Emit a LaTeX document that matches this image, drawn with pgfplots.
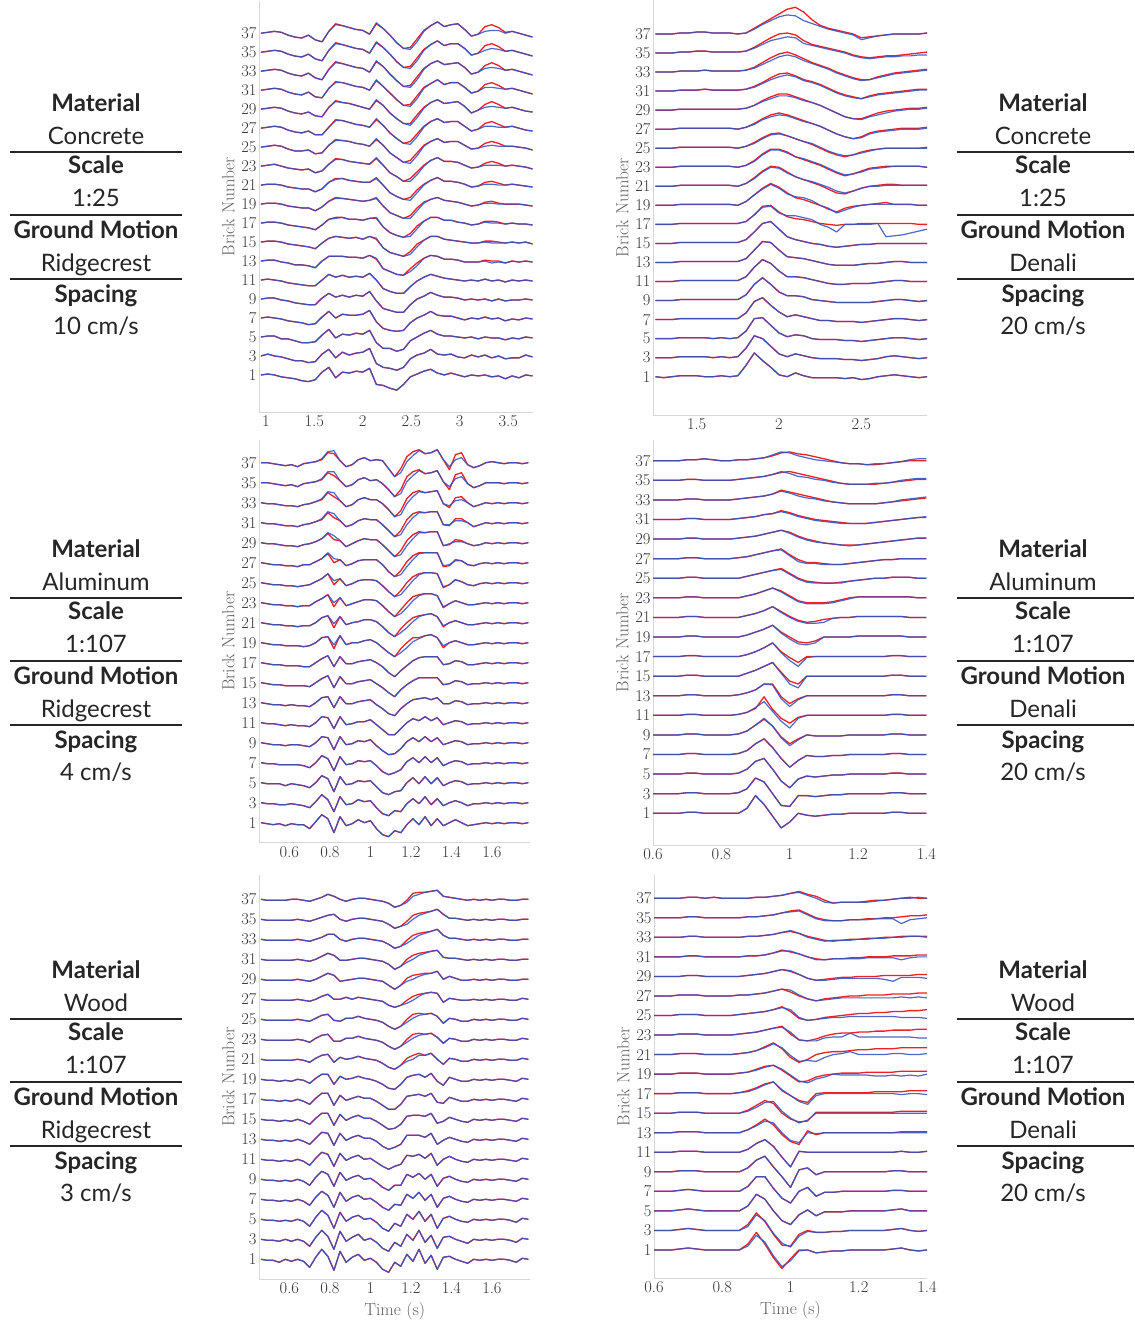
\documentclass[border=0pt]{standalone}
\usepackage{pgfplots}
\usepackage{pgfplotstable}
\pgfplotsset{compat=1.18}
\usepackage{fontspec}
\newfontfamily\lato{Lato}

\definecolor{tred}{RGB}{238,32,36}
\definecolor{tblue}{RGB}{52,82,196}
\definecolor{ink}{RGB}{38,38,38}

% Velocity traces, one row per brick: rN = measured, bN = model (when it differs).
% Values are offsets in tenths of a brick spacing; the header holds the times (s).

% Concrete 1:25, Ridgecrest
\pgfplotstableread[header=has colnames]{
id 0.95 1.02 1.09 1.16 1.23 1.30 1.37 1.44 1.51 1.58 1.65 1.72 1.79 1.86 1.93 2.00 2.07 2.14 2.21 2.28 2.35 2.42 2.49 2.56 2.63 2.70 2.77 2.84 2.91 2.98 3.05 3.12 3.19 3.26 3.33 3.40 3.47 3.54 3.61 3.68 3.75
r1  0 1 0 -2 -3 -4 -6 -7 -5 3 8 -3 3 2 4 3 7 -10 -11 -14 -16 -10 -2 1 4 6 2 0 2 0 -2 0 -1 0 -2 -1 -4 -1 -3 0 -1
r3  0 2 0 -1 -3 -5 -5 -7 -6 2 7 -2 4 1 3 4 8 -8 -12 -13 -15 -12 -3 1 3 7 2 1 2 -1 -2 1 -1 1 -2 0 -3 -2 -2 1 -1
r5  0 1 1 -2 -2 -4 -6 -6 -5 2 8 -1 3 2 4 3 7 -6 -12 -12 -15 -13 -4 0 4 7 3 1 1 0 -1 0 -2 0 -1 -1 -3 -1 -2 0 -1
r7  0 1 0 -1 -3 -4 -5 -7 -6 1 7 0 4 3 3 4 8 -4 -11 -13 -14 -13 -5 0 3 7 3 2 2 0 -2 0 -1 1 -1 0 -3 -1 -2 0 -1
r9  0 1 1 -1 -2 -4 -5 -6 -6 1 6 2 4 2 4 3 8 -2 -10 -12 -14 -14 -6 0 3 7 4 2 2 1 -1 0 -1 0 -2 0 -2 -1 -1 0 -1
r11 0 1 0 -1 -3 -4 -5 -6 -6 0 6 3 5 3 4 3 7 0 -9 -12 -14 -14 -7 -1 3 6 4 2 1 0 -1 0 -1 1 -1 0 -2 0 -1 0 -1
r13 0 1 1 -1 -2 -4 -4 -5 -7 0 5 5 5 4 4 3 6 2 -8 -11 -14 -15 -8 -2 3 6 5 2 2 1 -1 -1 -1 1 0 0 -2 0 -1 0 -1
b13 0 1 1 -1 -2 -4 -4 -5 -7 0 5 5 5 4 4 3 6 3 -8 -11 -14 -15 -11 -5 3 6 5 2 2 1 -1 -1 -1 0 -2 -1 -2 0 -1 0 -1
r15 0 1 1 0 -2 -3 -4 -5 -7 -1 4 6 5 4 5 3 6 3 -6 -11 -13 -15 -10 -2 2 6 6 3 2 1 0 -1 -1 1 1 0 -1 0 -1 0 -2
b15 0 1 1 0 -2 -3 -4 -5 -7 -1 4 6 5 4 5 3 6 4 -6 -11 -13 -15 -13 -5 2 6 6 3 2 1 0 -1 -1 0 -1 -1 -1 0 -1 0 -2
r17 0 1 1 0 -2 -3 -4 -5 -7 -2 4 6 6 4 4 3 5 5 -4 -10 -13 -15 -11 -3 2 6 6 3 3 1 0 -2 -1 2 2 1 -1 0 -1 -1 -2
b17 0 1 1 0 -2 -3 -4 -5 -7 -2 4 5 6 4 4 3 5 6 -4 -10 -13 -15 -14 -6 2 6 6 3 3 1 0 -2 -1 1 0 0 -1 0 -1 -1 -2
r19 0 1 1 0 -2 -3 -4 -4 -7 -3 3 7 6 5 4 3 4 6 -2 -9 -12 -15 -12 -4 2 5 7 4 3 2 0 -2 -1 2 3 1 0 0 0 -1 -2
b19 0 1 1 0 -2 -3 -4 -4 -7 -3 3 6 6 5 4 3 4 7 -2 -9 -12 -15 -15 -7 1 5 7 4 3 2 0 -2 -1 1 1 0 0 0 0 -1 -2
r21 0 1 1 0 -2 -3 -4 -4 -7 -4 3 7 7 5 4 3 3 7 0 -8 -12 -15 -13 -5 1 5 8 4 4 3 1 -2 -1 3 4 2 0 1 0 -1 -2
b21 0 1 1 0 -2 -3 -4 -4 -7 -4 3 6 7 5 4 3 3 8 0 -8 -12 -15 -16 -8 0 5 8 4 4 3 1 -2 -1 1 1 0 0 1 0 -1 -2
r23 0 1 2 0 -2 -3 -4 -3 -7 -5 2 8 7 5 4 3 2 8 1 -7 -11 -16 -13 -6 1 6 9 5 5 4 1 -2 -1 3 5 3 0 1 0 -1 -3
b23 0 1 2 0 -2 -3 -4 -3 -7 -5 2 7 7 5 4 3 2 9 1 -7 -11 -16 -16 -9 0 6 9 5 5 4 1 -2 -1 1 1 1 0 1 0 -1 -3
r25 0 1 2 1 -2 -4 -4 -3 -7 -6 2 8 7 6 4 3 1 8 2 -6 -11 -16 -14 -6 2 6 9 5 6 6 2 -2 -1 4 6 4 1 1 0 -1 -3
b25 0 1 2 1 -2 -4 -4 -3 -7 -6 2 7 7 6 4 3 1 9 2 -6 -11 -16 -17 -9 1 6 9 5 6 6 2 -2 -1 1 2 1 1 1 0 -1 -3
r27 0 1 2 1 -2 -4 -5 -3 -7 -7 1 9 8 6 4 3 1 9 3 -5 -11 -16 -14 -6 2 7 10 6 7 7 2 -3 -1 5 7 4 1 2 0 -2 -3
b27 0 1 2 1 -2 -4 -5 -3 -7 -7 1 8 8 6 4 3 1 10 3 -5 -11 -16 -17 -9 1 7 10 6 7 7 2 -3 -1 2 2 1 1 2 0 -2 -3
r29 0 1 2 1 -2 -4 -5 -3 -7 -8 2 9 7 6 4 2 0 9 4 -4 -10 -15 -15 -6 2 7 10 6 7 8 3 -4 -1 5 8 5 1 2 0 -2 -3
b29 0 1 2 1 -2 -4 -5 -3 -7 -8 2 8 7 6 4 2 0 10 4 -4 -10 -15 -17 -9 1 7 10 6 7 8 3 -4 -1 2 3 2 1 2 0 -2 -3
r31 0 1 2 1 -2 -4 -5 -2 -7 -8 2 9 8 6 4 3 0 10 4 -3 -10 -16 -15 -6 3 7 11 6 8 8 3 -3 -1 6 8 5 1 2 0 -2 -4
b31 0 1 2 1 -2 -4 -5 -2 -7 -8 2 8 8 6 4 3 0 11 4 -3 -10 -16 -17 -9 2 7 11 6 8 8 3 -3 -1 3 3 2 1 2 0 -2 -4
r33 0 1 2 1 -2 -4 -5 -2 -7 -9 2 10 8 6 4 3 -1 10 5 -3 -10 -16 -15 -6 3 8 11 7 8 9 4 -3 -1 6 9 6 1 2 0 -2 -4
b33 0 1 2 1 -2 -4 -5 -2 -7 -9 2 9 8 6 4 3 -1 11 5 -3 -10 -16 -17 -9 2 8 11 7 8 9 4 -3 -1 3 4 3 1 2 0 -2 -4
r35 0 1 2 1 -2 -4 -5 -2 -7 -9 2 10 8 6 4 3 -1 10 5 -2 -10 -16 -15 -6 3 8 12 7 9 9 4 -3 -1 7 9 6 1 2 0 -2 -4
b35 0 1 2 1 -2 -4 -5 -2 -7 -9 2 9 8 6 4 3 -1 11 5 -2 -10 -16 -17 -9 2 8 12 7 9 9 4 -3 -1 2 4 3 1 2 0 -2 -4
r37 0 1 2 1 -2 -4 -5 -2 -7 -9 2 10 8 6 4 3 -1 10 5 -2 -10 -16 -15 -6 3 8 12 7 9 10 4 -3 -1 7 9 6 1 2 0 -2 -4
b37 0 1 2 1 -2 -4 -5 -2 -7 -9 2 9 8 6 4 3 -1 11 5 -2 -10 -16 -17 -9 2 8 12 7 9 10 4 -3 -1 2 3 3 0 2 0 -2 -4
}\rawA

% Aluminum 1:107, Ridgecrest
\pgfplotstableread[header=has colnames]{
id 0.46 0.49 0.52 0.55 0.58 0.61 0.64 0.67 0.70 0.73 0.76 0.79 0.82 0.85 0.88 0.91 0.94 0.97 1.00 1.03 1.06 1.09 1.12 1.15 1.18 1.21 1.24 1.27 1.30 1.33 1.36 1.39 1.42 1.45 1.48 1.51 1.54 1.57 1.60 1.63 1.66 1.69 1.72 1.75 1.78
r1  0 -1 -2 -1 -3 -1 -2 -2 -6 1 8 4 -10 6 -3 -1 3 0 2 -6 -12 -14 -8 -10 -2 4 -2 6 -3 4 -3 0 3 0 -3 -2 -1 0 -1 0 -1 0 0 -1 0
r3  0 -1 -1 -2 -2 -1 -2 -3 -5 1 8 3 -9 6 -2 -1 3 1 2 -5 -11 -13 -8 -9 -1 4 -1 6 -2 4 -3 0 2 0 -3 -1 -1 0 -1 0 -1 0 0 -1 0
r5  0 -1 -1 -1 -3 -1 -2 -3 -5 0 7 4 -9 6 -2 -1 2 1 2 -4 -10 -12 -9 -8 0 5 -1 6 -1 5 -3 0 2 1 -2 -1 -1 0 -1 0 -1 0 0 -1 0
r7  0 -1 -1 -2 -2 -2 -2 -3 -5 0 7 4 -8 6 -2 -1 2 1 2 -3 -9 -12 -10 -7 1 5 0 6 0 5 -3 0 2 1 -2 -1 -1 0 -1 0 -1 0 0 -1 0
r9  0 -1 -2 -2 -3 -2 -2 -3 -4 0 6 5 -7 6 -2 -1 2 1 3 -3 -8 -12 -11 -6 1 5 1 6 1 5 -2 0 2 1 -2 -1 -1 0 -1 0 -1 0 0 -1 0
r11 0 -1 -1 -2 -3 -2 -3 -3 -4 0 6 5 -6 6 -2 -1 1 1 3 -2 -7 -12 -12 -6 0 4 2 6 2 5 -2 0 2 1 -2 -1 -1 0 -1 0 -1 0 0 -1 0
r13 0 -1 -2 -2 -3 -2 -3 -3 -4 0 5 6 -5 6 -1 -1 1 2 3 -2 -6 -11 -13 -6 -1 3 4 5 3 5 -1 -1 2 1 -2 -1 -1 0 -1 0 -1 0 0 -1 0
r15 0 -1 -2 -2 -3 -3 -3 -3 -4 0 4 7 -5 6 -1 -1 1 2 3 -1 -5 -10 -14 -7 -2 2 5 5 5 5 -2 -1 2 1 -2 -1 -1 0 -1 0 -1 0 0 -1 0
r17 0 -1 -2 -2 -3 -3 -3 -4 -4 0 4 7 -4 6 -1 -1 1 2 3 0 -4 -10 -14 -8 -3 2 5 6 6 6 -2 -1 2 1 -2 -2 -1 0 -1 0 -1 0 0 -1 0
r19 0 -1 -2 -2 -3 -3 -3 -4 -3 0 5 6 -6 7 -2 0 0 2 3 0 -5 -10 -14 -6 0 5 5 7 8 5 -5 0 2 0 -2 -2 -1 0 -1 0 -1 0 0 -1 0
b19 0 -1 -2 -2 -3 -3 -3 -4 -3 0 5 6 -2 7 -2 0 0 2 3 0 -5 -10 -14 -10 -5 1 4 7 8 5 -3 0 2 0 -2 -2 -1 0 -1 0 -1 0 0 -1 0
r21 0 -1 -2 -2 -3 -3 -4 -3 -3 0 5 7 -5 6 -2 0 1 3 3 1 -4 -10 -14 -6 0 5 7 8 9 6 -4 0 2 0 -2 -2 -1 0 -1 0 -1 0 0 -1 0
b21 0 -1 -2 -2 -3 -3 -4 -3 -3 0 5 7 -1 6 -2 0 1 3 3 1 -4 -10 -14 -10 -5 1 6 8 9 6 -3 0 2 0 -2 -2 -1 0 -1 0 -1 0 0 -1 0
r23 0 -1 -2 -2 -3 -3 -4 -3 -3 1 4 8 -4 5 -3 -1 1 3 3 2 -3 -9 -14 -7 0 6 8 9 9 7 -5 -1 2 0 -2 -2 -1 0 -1 0 -1 0 0 -1 0
b23 0 -1 -2 -2 -3 -3 -4 -3 -3 1 4 8 0 5 -3 -1 1 3 3 2 -3 -9 -14 -11 -5 2 7 9 9 7 -4 -1 2 0 -2 -2 -1 0 -1 0 -1 0 0 -1 0
r25 0 -1 -2 -2 -3 -3 -4 -3 -2 1 4 9 -2 4 -3 -1 2 3 3 2 -3 -9 -14 -8 0 6 9 10 10 9 -5 -2 3 1 -2 -3 -1 0 -1 0 -1 0 0 -1 0
b25 0 -1 -2 -2 -3 -3 -4 -3 -2 1 4 9 2 4 -3 -1 2 3 3 2 -3 -9 -14 -12 -5 2 8 10 10 9 -4 -2 3 1 -2 -3 -1 0 -1 0 -1 0 0 -1 0
r27 0 -1 -2 -2 -3 -3 -4 -2 -2 1 4 9 0 3 -3 -1 2 3 3 3 -2 -9 -14 -8 1 7 10 10 10 10 -4 -3 3 2 -2 -3 -1 0 -1 0 -1 0 0 -1 0
b27 0 -1 -2 -2 -3 -3 -4 -2 -2 1 4 10 4 3 -3 -1 2 3 3 3 -2 -9 -14 -12 -4 3 9 10 10 10 -3 -2 2 2 -2 -3 -1 0 -1 0 -1 0 0 -1 0
r29 0 -1 -1 -2 -3 -3 -4 -2 -1 1 4 9 3 2 -4 -1 2 4 3 3 -2 -8 -14 -8 2 8 11 10 11 11 -3 -2 3 2 -1 -3 -2 0 -1 0 -1 0 0 -1 0
b29 0 -1 -1 -2 -3 -3 -4 -2 -1 1 4 10 7 2 -4 -1 2 4 3 3 -2 -8 -14 -12 -3 4 10 10 11 11 -3 -1 1 1 -1 -3 -2 0 -1 0 -1 0 0 -1 0
r31 0 -1 -1 -2 -3 -3 -4 -2 -1 1 3 10 5 2 -4 -2 2 4 3 3 -2 -8 -14 -8 3 9 11 10 11 11 -2 -3 4 4 0 -4 -2 0 -1 0 -1 0 0 -1 0
b31 0 -1 -1 -2 -3 -3 -4 -2 -1 1 4 11 9 2 -4 -2 2 4 3 3 -2 -8 -14 -12 -2 5 10 10 11 11 -2 -2 2 2 0 -4 -2 0 -1 0 -1 0 0 -1 0
r33 0 -1 -1 -2 -3 -3 -4 -2 -1 1 3 10 6 2 -4 -2 3 5 3 3 -1 -7 -14 -8 4 10 12 10 11 12 -1 -5 5 6 0 -4 -2 0 -1 0 -1 0 0 -1 0
b33 0 -1 -1 -2 -3 -3 -4 -2 -1 1 4 11 10 2 -4 -2 3 5 3 3 -1 -7 -14 -12 -1 6 11 10 11 12 -1 -3 2 3 0 -4 -2 0 -1 0 -1 0 0 -1 0
r35 0 0 -1 -2 -3 -2 -4 -1 0 1 3 10 7 2 -4 -2 3 5 2 3 -1 -7 -14 -7 6 11 13 9 10 12 1 -7 8 10 -1 -5 -3 0 0 0 -1 0 0 -1 0
b35 0 0 -1 -2 -3 -2 -4 -1 0 1 4 11 11 2 -4 -2 3 5 2 3 -1 -7 -14 -11 1 7 12 9 10 12 1 -4 4 6 -1 -5 -3 0 0 0 -1 0 0 -1 0
r37 0 0 -1 -2 -3 -2 -4 -1 0 1 3 10 9 2 -4 -2 3 5 2 3 2 -6 -14 -6 6 11 13 9 10 13 3 -7 8 10 -2 -5 -3 0 1 0 -1 0 0 -1 0
b37 0 0 -1 -2 -3 -2 -4 -1 0 1 4 11 12 2 -4 -2 3 5 2 3 2 -6 -14 -10 1 7 12 9 10 13 3 -4 3 5 -2 -5 -3 0 1 0 -1 0 0 -1 0
}\rawB

% Wood 1:107, Ridgecrest
\pgfplotstableread[header=has colnames]{
id 0.46 0.49 0.52 0.55 0.58 0.61 0.64 0.67 0.70 0.73 0.76 0.79 0.82 0.85 0.88 0.91 0.94 0.97 1.00 1.03 1.06 1.09 1.12 1.15 1.18 1.21 1.24 1.27 1.30 1.33 1.36 1.39 1.42 1.45 1.48 1.51 1.54 1.57 1.60 1.63 1.66 1.69 1.72 1.75 1.78
r1  0 -1 -1 -3 0 -2 0 -2 -8 2 10 3 -11 8 -3 2 5 -1 1 -3 -10 -13 -3 -7 5 -2 10 -4 4 -10 2 3 0 -2 -4 0 -1 0 -1 0 0 -1 -3 1 0
r3  0 -1 -1 -2 0 -2 0 -2 -7 2 9 3 -10 8 -2 2 5 -1 1 -3 -9 -12 -3 -7 5 -1 9 -3 4 -9 2 3 0 -2 -4 0 -1 0 -1 0 0 -1 -3 1 0
r5  0 -1 -1 -2 -1 -2 0 -2 -7 2 9 4 -9 7 -2 2 4 0 1 -3 -9 -12 -4 -7 5 0 8 -2 5 -9 1 3 0 -2 -3 0 -1 0 -1 0 0 -1 -3 1 0
r7  0 -1 -1 -2 -1 -2 0 -2 -6 2 8 4 -8 7 -2 2 4 0 1 -3 -8 -11 -5 -6 5 1 7 -1 5 -8 1 3 0 -2 -3 0 -1 0 -1 0 0 -1 -2 1 0
r9  0 -1 -1 -2 -1 -2 0 -2 -6 2 8 5 -7 7 -1 2 4 0 1 -3 -8 -11 -6 -6 5 2 6 0 5 -7 1 3 0 -2 -3 0 -1 0 -1 0 0 -1 -2 1 0
r11 0 -1 -1 -2 -1 -2 0 -2 -6 1 7 5 -7 6 -1 2 4 0 1 -3 -7 -10 -7 -5 4 3 5 1 6 -6 0 3 0 -2 -3 0 -1 0 -1 0 0 -1 -2 1 0
r13 0 -1 -1 -2 -1 -2 0 -2 -5 1 7 6 -6 6 -1 2 4 1 1 -2 -7 -10 -8 -5 4 4 4 2 6 -5 -1 2 0 -2 -3 0 -1 0 -1 0 0 -1 -2 1 0
r15 0 -1 -1 -2 -1 -2 0 -2 -5 1 6 6 -6 5 -1 2 4 1 1 -2 -6 -10 -9 -5 3 4 4 3 6 -4 -2 2 0 -2 -3 0 -1 0 -1 0 0 -1 -2 1 0
r17 0 -1 -1 -2 -1 -2 0 -2 -5 1 6 6 -6 4 -1 1 3 1 1 -2 -6 -10 -10 -5 3 4 5 3 6 -3 -4 2 0 -2 -2 0 -1 0 -1 0 0 -1 -2 1 0
r19 0 -1 -1 -2 -1 -2 0 -1 -4 1 5 5 -5 3 0 1 3 1 0 -2 -5 -9 -10 -5 2 4 5 2 6 -2 -6 2 0 -2 -2 0 -1 0 -1 0 0 -1 -2 1 0
r21 0 -1 -1 -1 -1 -1 0 -1 -3 1 4 5 -3 2 0 1 3 1 0 -1 -4 -8 -10 -6 1 4 6 4 6 0 -5 1 0 -2 -2 0 -1 0 -1 0 0 -1 -1 1 0
b21 0 -1 -1 -1 -1 -1 0 -1 -3 1 4 5 -3 2 0 1 3 1 0 -1 -4 -8 -10 -6 -2 0 4 4 6 0 -5 1 0 -2 -2 0 -1 0 -1 0 0 -1 -1 1 0
r23 0 -1 -1 -1 -1 -1 0 -1 -3 1 4 5 -2 -2 1 1 3 1 0 -1 -3 -7 -10 -7 0 5 6 5 6 2 -4 1 0 -2 -2 0 -1 0 -1 0 0 -1 -1 1 0
b23 0 -1 -1 -1 -1 -1 0 -1 -3 1 4 5 -2 -2 1 1 3 1 0 -1 -3 -7 -10 -7 -3 1 4 5 6 2 -4 1 0 -2 -2 0 -1 0 -1 0 0 -1 -1 1 0
r25 0 -1 -1 -1 -1 -1 0 -1 -2 1 4 5 -1 -2 1 1 3 1 0 -1 -3 -7 -10 -7 0 5 6 5 6 3 -4 1 0 -2 -2 0 -1 0 -1 0 0 -1 -1 1 0
b25 0 -1 -1 -1 -1 -1 0 -1 -2 1 4 5 -1 -2 1 1 3 1 0 -1 -3 -7 -10 -7 -3 1 4 5 6 3 -4 1 0 -2 -2 0 -1 0 -1 0 0 -1 -1 1 0
r27 0 -1 -1 -1 -1 -1 0 -1 -2 0 3 5 0 0 2 0 2 1 0 -1 -2 -6 -8 -6 -1 3 5 6 7 6 -3 1 0 -1 -1 0 -1 0 -1 0 0 -1 -1 1 0
b27 0 -1 -1 -1 -1 -1 0 -1 -2 0 3 5 0 0 2 0 2 1 0 -1 -2 -6 -8 -6 -4 -1 3 6 7 6 -3 1 0 -1 -1 0 -1 0 -1 0 0 -1 -1 1 0
r29 0 -1 -1 -1 -1 -1 0 -1 -2 0 3 6 4 -2 -1 0 1 1 0 -1 -2 -6 -10 -6 1 4 5 6 6 8 0 3 1 -1 -1 0 -1 0 -1 0 0 -1 -1 0 0
b29 0 -1 -1 -1 -1 -1 0 -1 -2 0 3 6 4 -2 -1 0 1 1 0 -1 -2 -6 -10 -6 -2 0 3 5 6 8 0 3 1 -1 -1 0 -1 0 -1 0 0 -1 -1 0 0
r31 0 -1 -1 -1 -1 -1 0 -1 -2 0 3 6 4 -1 -1 0 1 1 0 -1 -2 -5 -10 -7 0 4 6 7 8 9 2 1 1 0 -1 0 -1 0 -1 0 0 -1 -1 0 0
b31 0 -1 -1 -1 -1 -1 0 -1 -2 0 3 6 4 -1 -1 0 1 1 0 -1 -2 -5 -10 -7 -3 0 4 6 8 9 2 1 1 0 -1 0 -1 0 -1 0 0 -1 -1 0 0
r33 0 -1 -1 -1 -1 -1 0 -1 -2 0 2 5 5 0 -2 0 1 1 0 -1 -2 -5 -9 -7 -1 4 6 7 8 10 4 1 1 0 -1 0 -1 0 -1 0 0 -1 -1 0 0
b33 0 -1 -1 -1 -1 -1 0 -1 -2 0 2 5 5 0 -2 0 1 1 0 -1 -2 -5 -9 -7 -4 0 4 6 8 10 4 1 1 0 -1 0 -1 0 -1 0 0 -1 -1 0 0
r35 0 -1 -1 -1 -1 -1 0 -1 -2 0 2 4 5 0 -2 0 1 1 0 -1 -2 -5 -9 -7 -2 4 6 7 8 10 5 1 1 0 -1 0 -1 0 -1 0 0 -1 -1 0 0
b35 0 -1 -1 -1 -1 -1 0 -1 -2 0 2 4 5 0 -2 0 1 1 0 -1 -2 -5 -9 -7 -5 0 4 6 8 10 5 1 1 0 -1 0 -1 0 -1 0 0 -1 -1 0 0
r37 0 -1 -1 -1 -1 0 0 -1 -2 0 2 5 3 0 -2 0 1 1 0 -1 -2 -4 -8 -6 -1 6 7 7 8 9 3 2 1 0 -1 0 -1 0 -1 0 0 -1 -1 0 0
b37 0 -1 -1 -1 -1 0 0 -1 -2 0 2 5 3 0 -2 0 1 1 0 -1 -2 -4 -8 -6 -3 3 5 7 8 9 3 2 1 0 -1 0 -1 0 -1 0 0 -1 -1 0 0
}\rawC

% Concrete 1:25, Denali
\pgfplotstableread[header=has colnames]{
id 1.25 1.30 1.35 1.40 1.45 1.50 1.55 1.60 1.65 1.70 1.75 1.80 1.85 1.90 1.95 2.00 2.05 2.10 2.15 2.20 2.25 2.30 2.35 2.40 2.45 2.50 2.55 2.60 2.65 2.70 2.75 2.80 2.85 2.90
r1  0 -1 0 1 1 1 0 0 1 0 1 12 25 17 10 2 0 4 1 -1 -1 -1 -1 -2 -1 -3 -2 0 1 2 1 0 -1 0
r3  0 0 0 1 1 1 1 0 1 0 1 10 23 20 12 4 1 4 2 0 -1 -1 -1 -2 -2 -3 -2 -1 1 2 1 0 -1 0
r5  0 0 0 1 1 1 1 0 1 0 1 8 21 22 14 6 2 4 3 0 -1 -1 -1 -2 -2 -3 -2 -1 0 1 1 0 -1 0
r7  0 0 0 1 1 1 1 1 1 1 1 7 19 23 15 8 3 5 3 1 -1 -1 -2 -2 -2 -3 -2 -1 0 1 1 0 -1 0
r9  0 0 0 1 1 1 1 1 1 1 1 6 17 24 17 9 5 5 4 1 0 -1 -2 -2 -2 -2 -2 -1 0 1 1 0 -1 0
r11 0 0 0 1 1 1 1 1 1 1 1 5 15 23 19 11 5 5 4 2 0 -2 -3 -3 -2 -2 -2 -1 0 1 1 0 0 0
r13 0 0 0 1 1 1 1 1 1 1 1 4 13 22 21 13 6 5 4 2 0 -2 -3 -3 -3 -2 -1 -1 0 1 1 0 0 0
r15 0 0 0 1 1 1 1 1 1 1 1 4 12 21 23 15 7 4 2 0 -1 -3 -4 -3 -2 -1 -1 0 0 0 0 0 0 0
r17 0 0 0 1 1 1 1 1 1 1 1 3 10 19 20 13 8 6 5 3 1 0 -1 0 0 1 1 1 1 1 1 1 0 0
b17 0 0 0 1 1 1 1 1 1 1 1 3 10 18 19 12 9 9 7 5 0 -3 -8 0 0 0 0 1 -13 -12 -11 -9 -7 -5
r19 0 0 0 1 1 1 1 1 1 1 0 4 11 18 23 19 13 8 6 3 0 -4 -7 -3 -1 0 1 2 3 1 1 1 0 0
b19 0 0 0 1 1 1 1 1 1 1 0 4 11 17 22 18 12 9 8 5 0 -3 -8 -5 -2 0 1 1 1 1 1 1 0 0
r21 0 0 0 1 1 1 1 1 1 1 0 3 9 16 21 20 15 10 7 4 1 -3 -7 -8 -5 -2 0 1 2 2 1 1 1 1
b21 0 0 0 1 1 1 1 1 1 1 0 3 8 15 20 19 14 10 7 5 2 -1 -5 -7 -5 -2 0 0 1 1 1 1 1 1
r23 0 0 0 1 1 1 1 1 1 1 0 2 7 14 19 19 16 11 8 5 2 -2 -6 -9 -7 -4 -1 0 1 1 1 1 1 0
b23 0 0 0 1 1 1 1 1 1 1 0 2 6 13 18 18 15 11 9 6 3 -1 -5 -8 -7 -5 -2 -1 0 1 1 1 1 0
r25 0 0 0 1 1 1 1 1 1 1 0 2 6 11 15 16 13 10 7 4 0 -4 -7 -9 -7 -4 -2 -1 0 0 0 0 0 1
b25 0 0 0 1 1 1 1 1 1 1 0 2 5 10 14 15 13 10 7 5 1 -3 -6 -8 -7 -5 -3 -1 0 0 0 0 0 0
r27 0 0 0 1 1 1 1 1 1 1 0 2 6 11 15 17 15 12 9 6 3 -1 -5 -8 -10 -8 -4 -2 -1 0 1 1 1 2
b27 0 0 0 1 1 1 1 1 1 1 0 2 5 10 13 15 14 11 8 6 3 -1 -5 -8 -10 -9 -5 -3 -2 -1 0 0 0 1
r29 0 0 0 1 1 1 1 1 1 1 1 2 5 10 14 17 17 14 11 8 5 1 -3 -7 -9 -9 -6 -3 -1 0 1 2 2 3
b29 0 0 0 1 1 1 1 1 1 1 1 2 5 9 12 15 15 13 10 8 5 1 -3 -7 -9 -10 -7 -5 -3 -1 0 1 1 2
r31 0 0 0 1 1 1 2 1 1 1 1 2 5 9 14 18 19 16 12 10 7 3 -1 -4 -6 -8 -5 -3 -2 -1 0 1 2 2
b31 0 0 0 1 1 1 2 1 1 1 1 2 4 8 12 15 17 15 11 9 6 2 -2 -5 -7 -8 -6 -4 -3 -2 -1 0 1 1
r33 0 0 0 1 1 1 2 1 1 1 1 2 5 10 15 19 21 18 14 10 7 4 0 -3 -6 -8 -8 -5 -3 -1 0 1 2 3
b33 0 0 0 1 1 1 2 1 1 1 1 2 4 8 12 16 18 16 12 9 6 3 -1 -4 -7 -9 -8 -6 -4 -2 -1 0 1 2
r35 0 0 0 1 1 2 2 1 1 1 1 2 6 11 16 20 21 19 13 9 7 5 3 1 -2 -4 -5 -4 -3 -3 -2 -1 0 1
b35 0 0 0 1 1 2 2 1 1 1 1 2 5 9 13 15 17 16 10 8 6 4 2 0 -3 -5 -6 -5 -4 -4 -3 -3 -2 -2
r37 0 0 0 1 1 2 2 1 1 1 0 1 6 11 16 21 26 28 23 15 9 6 4 2 0 -4 -3 -2 -1 0 0 0 0 1
b37 0 0 0 1 1 2 2 1 1 1 0 1 5 10 14 18 20 19 14 11 8 5 3 1 -1 -6 -4 -2 -1 0 0 0 0 1
}\rawD

% Aluminum 1:107, Denali
\pgfplotstableread[header=has colnames]{
id 0.600 0.625 0.650 0.675 0.700 0.725 0.750 0.775 0.800 0.825 0.850 0.875 0.900 0.925 0.950 0.975 1.000 1.025 1.050 1.075 1.100 1.125 1.150 1.175 1.200 1.225 1.250 1.275 1.300 1.325 1.350 1.375 1.400
r1  0 0 0 0 1 1 0 0 0 0 0 5 18 9 -3 -15 -9 0 -2 -3 -2 -1 -1 0 0 0 0 0 1 1 0 0 0
r3  0 0 0 0 1 1 0 0 0 0 1 5 16 12 0 -12 -13 -2 -2 -3 -2 -1 -1 0 0 0 0 0 1 1 0 0 0
r5  0 0 0 0 1 1 0 0 0 0 1 5 13 16 5 -7 -14 -5 -2 -3 -2 -1 -1 0 0 0 0 0 1 1 0 0 0
r7  0 0 0 0 1 1 0 0 0 0 1 4 11 16 7 -4 -13 -6 -1 -2 -2 -1 -1 0 0 0 0 0 1 1 0 0 0
r9  0 0 0 0 1 1 0 0 0 0 1 4 10 16 9 -2 -9 -4 0 -1 -1 -1 -1 0 0 0 0 0 1 1 0 0 0
b9  0 0 0 0 1 1 0 0 0 0 1 4 10 17 9 -3 -11 -5 0 -1 -1 -1 -1 0 0 0 0 0 1 1 0 0 0
r11 0 0 0 0 1 1 0 0 0 0 1 3 7 19 6 -3 -8 -2 0 0 0 0 0 0 0 0 0 0 1 1 0 0 0
b11 0 0 0 0 1 1 0 0 0 0 1 3 8 14 4 -6 -13 -3 0 0 0 0 0 0 0 0 0 0 1 1 0 0 0
r13 0 0 0 0 1 1 0 0 0 0 1 3 6 12 12 -1 -8 -3 0 0 0 0 0 0 0 0 0 0 1 1 0 0 0
b13 0 0 0 0 1 1 0 0 0 0 1 3 6 12 11 -3 -11 -4 0 0 0 0 0 0 0 0 0 0 1 1 0 0 0
r15 0 0 0 0 1 1 0 0 0 0 0 3 6 10 14 4 -5 -8 0 0 0 0 0 0 0 0 0 0 1 1 0 0 0
b15 0 0 0 0 1 1 0 0 0 0 0 3 6 10 14 3 -8 -12 0 0 0 0 0 0 0 0 0 0 1 1 0 0 0
r17 0 0 0 0 1 1 0 0 0 0 0 2 5 9 14 5 -1 -6 0 0 0 0 0 0 0 0 0 0 1 1 0 0 0
b17 0 0 0 0 1 1 0 0 0 0 0 2 5 9 14 4 -4 -10 -1 0 0 0 0 0 0 0 0 0 1 1 0 0 0
r19 0 0 0 0 1 1 0 0 0 0 0 2 5 8 12 5 0 -5 -6 -4 0 0 0 0 1 1 1 1 1 1 0 0 0
b19 0 0 0 0 1 1 0 0 0 0 0 2 5 8 12 4 -2 -7 -8 -6 0 0 0 0 1 1 1 1 1 1 0 0 0
r21 0 0 0 0 1 1 0 0 0 0 0 2 4 7 11 6 1 -3 -5 -4 -2 -1 0 0 1 1 1 1 1 1 0 0 0
b21 0 0 0 0 1 1 0 0 0 0 0 2 4 7 11 5 0 -4 -6 -6 -5 -1 0 0 1 1 1 1 1 1 0 0 0
r23 0 0 0 0 1 1 0 0 0 0 0 2 4 7 10 7 2 -3 -5 -5 -5 -4 -2 0 1 1 1 1 1 1 1 0 0
b23 0 0 0 0 1 1 0 0 0 0 0 2 4 7 10 6 1 -4 -6 -6 -6 -5 -3 -1 1 1 1 1 1 1 1 0 0
r25 0 0 0 0 1 1 0 0 0 0 0 2 4 6 8 10 5 0 -3 -4 -5 -5 -4 -3 -2 -1 0 0 1 1 1 0 0
b25 0 0 0 0 1 1 0 0 0 0 0 2 4 6 8 9 4 -1 -4 -5 -5 -5 -5 -3 -2 -1 0 0 1 1 1 0 0
r27 0 0 0 0 1 1 0 0 0 0 1 2 4 6 8 10 4 -1 -4 -4 -5 -6 -6 -5 -4 -3 -2 -1 -1 0 0 0 0
b27 0 0 0 0 1 1 0 0 0 0 1 2 4 6 8 9 3 -3 -5 -5 -6 -6 -6 -5 -4 -3 -2 -1 -1 0 0 0 0
r29 0 0 0 0 1 1 0 0 0 0 1 2 3 5 7 9 7 3 0 -2 -4 -5 -6 -6 -6 -5 -4 -3 -2 -1 0 1 1
b29 0 0 0 0 1 1 0 0 0 0 1 2 3 5 7 9 6 2 -1 -3 -4 -5 -6 -7 -6 -5 -4 -3 -2 -1 0 1 1
r31 0 0 0 0 1 1 0 0 0 0 1 2 3 5 6 9 7 4 2 0 -1 -2 -3 -4 -4 -4 -3 -2 -1 0 1 2 2
b31 0 0 0 0 1 1 0 0 0 0 1 2 3 5 6 8 6 3 1 -1 -2 -3 -4 -4 -4 -4 -3 -2 -1 0 1 2 3
r33 0 0 0 0 1 1 0 0 0 0 1 2 3 4 6 10 8 6 4 2 0 -2 -3 -4 -4 -4 -4 -3 -2 -1 0 1 2
b33 0 0 0 0 1 1 0 0 0 0 1 2 3 4 6 9 7 4 2 1 -1 -2 -3 -4 -4 -4 -4 -3 -2 0 1 2 3
r35 0 0 0 0 1 1 0 0 0 0 1 2 3 4 6 8 9 7 5 3 1 -1 -3 -4 -4 -4 -4 -3 -2 -1 0 1 1
b35 0 0 0 0 1 1 0 0 0 0 1 2 3 4 6 9 7 4 3 1 0 -2 -3 -4 -4 -4 -3 -3 -2 0 1 2 2
r37 0 0 0 0 1 1 2 1 0 0 1 1 2 3 5 8 9 7 6 4 2 0 -2 -3 -3 -4 -4 -3 -2 -1 0 0 0
b37 0 0 0 0 1 1 2 1 0 0 1 1 2 3 6 9 8 5 3 1 0 -1 -2 -3 -3 -4 -3 -3 -2 -1 1 2 2
}\rawE

% Wood 1:107, Denali
\pgfplotstableread[header=has colnames]{
id 0.600 0.625 0.650 0.675 0.700 0.725 0.750 0.775 0.800 0.825 0.850 0.875 0.900 0.925 0.950 0.975 1.000 1.025 1.050 1.075 1.100 1.125 1.150 1.175 1.200 1.225 1.250 1.275 1.300 1.325 1.350 1.375 1.400
r1  0 0 0 1 2 1 0 0 0 0 0 6 18 6 -8 -19 -9 0 0 -3 -2 -1 -1 0 0 0 0 0 1 2 0 -1 0
b1  0 0 0 1 2 1 0 0 0 0 0 4 15 8 -6 -17 -11 -1 0 -3 -2 -1 -1 0 0 0 0 0 1 2 0 -1 0
r3  0 0 0 1 2 1 0 0 0 0 0 6 18 9 -4 -15 -16 -4 0 -2 -2 -1 -1 0 0 0 0 0 1 2 0 -1 0
b3  0 0 0 1 2 1 0 0 0 0 0 4 16 10 -3 -13 -17 -6 -1 -2 -2 -1 -1 0 0 0 0 0 1 2 0 -1 0
r5  0 0 0 1 2 1 0 0 0 0 0 5 17 12 0 -10 -14 -4 1 -5 -1 -1 -1 0 0 0 0 0 1 2 0 0 0
r7  0 0 0 1 2 1 0 0 0 0 0 5 15 15 3 -7 -12 0 4 -5 -1 -1 0 0 0 0 0 0 1 1 0 0 0
r9  0 0 0 1 1 1 0 0 0 0 0 4 12 16 5 -5 -16 2 4 -3 0 0 0 0 0 0 0 0 1 1 0 0 0
r11 0 0 0 1 1 1 0 0 0 0 0 3 9 13 6 -5 -15 1 0 0 0 0 0 0 0 0 0 0 0 1 0 0 1
r13 0 0 0 1 1 1 0 0 0 0 0 3 8 14 8 -2 -9 -12 2 -2 0 0 0 0 0 0 0 0 0 1 1 1 1
b13 0 0 0 1 1 1 0 0 0 0 0 3 7 12 10 0 -8 -10 0 -1 0 0 0 0 0 0 0 0 0 0 0 0 0
r15 0 0 0 1 1 1 0 0 0 0 0 3 8 13 10 0 -6 -9 -8 1 1 1 1 1 1 1 1 1 1 2 2 2 2
b15 0 0 0 1 1 1 0 0 0 0 0 2 6 11 12 2 -5 -10 -7 0 0 0 0 0 0 0 0 0 0 0 0 0 0
r17 0 0 0 1 1 1 0 0 0 0 1 3 6 10 12 3 -2 -7 -9 0 1 1 1 1 1 1 2 2 2 2 3 3 3
b17 0 0 0 1 1 1 0 0 0 0 1 2 5 9 12 4 -2 -8 -11 -2 0 0 0 0 0 0 0 0 0 -1 0 0 -1
r19 0 0 0 1 1 1 0 0 0 0 1 2 5 8 9 4 -2 -8 -7 -3 -1 0 1 1 1 2 2 2 2 3 3 3 3
b19 0 0 0 1 1 1 0 0 0 0 1 2 4 7 9 5 -1 -7 -9 -5 -3 0 -1 -1 -1 -1 -2 -2 -1 -2 -1 -2 0
r21 0 0 0 1 1 1 0 0 0 0 1 2 4 8 12 6 -3 -8 -5 0 2 3 3 4 5 5 6 6 6 7 7 7 7
b21 0 0 0 1 1 1 0 0 0 0 1 2 4 7 11 7 -1 -7 -6 -7 -3 0 1 3 0 0 0 0 1 1 0 0 1
r23 0 0 0 1 1 1 0 0 0 0 1 2 3 5 7 9 1 -5 -6 -4 -1 1 2 2 3 3 4 4 5 5 5 6 6
b23 0 0 0 1 1 1 0 0 0 0 1 2 3 5 7 8 3 -5 -6 -6 -3 -2 -2 2 -2 -2 -2 -2 -2 -2 -2 -3 -3
r25 0 0 0 1 1 1 0 0 0 0 1 2 3 4 6 9 4 -3 -5 -4 -2 -1 0 1 2 2 3 3 4 4 5 5 6
b25 0 0 0 1 1 1 0 0 0 0 1 2 3 4 6 8 6 -2 -5 -4 -3 -2 -2 -1 -1 -1 -1 -1 -1 -2 -2 -2 -3
r27 0 0 0 1 1 1 0 0 0 0 1 1 2 3 5 7 4 0 -3 -5 -3 -2 -1 0 0 1 1 1 2 2 2 3 3
b27 0 0 0 1 1 1 0 0 0 0 1 1 2 3 5 7 6 1 -3 -5 -4 -3 -2 -2 -2 -2 -2 -2 -2 -1 -2 -1 -2
r29 0 0 0 0 1 1 0 0 0 0 0 1 2 3 5 7 5 2 -2 -4 -3 -2 -1 -1 0 0 0 1 1 1 1 2 2
b29 0 0 0 0 1 1 0 0 0 0 0 1 2 3 5 7 6 2 -2 -4 -4 -3 -2 -2 -2 -2 -2 -3 -5 -1 -1 -1 -2
r31 0 0 0 0 1 1 0 0 0 0 0 1 1 2 4 7 5 3 0 -2 -3 -2 -2 -1 -1 0 0 0 1 1 1 2 2
b31 0 0 0 0 1 1 0 0 0 0 0 1 1 2 4 6 6 3 0 -3 -3 -2 -2 -2 -2 -1 -1 -1 -1 -3 -1 0 0
r33 0 0 0 0 1 1 0 0 0 0 0 1 1 2 3 5 6 4 1 -1 -3 -4 -3 -2 -2 -1 -1 0 0 1 1 1 1
b33 0 0 0 0 1 1 0 0 0 0 0 1 1 2 3 5 7 4 0 -2 -4 -3 -3 -3 -2 -2 -1 -1 0 0 1 1 0
r35 0 0 0 0 1 1 0 0 0 0 0 1 1 2 3 5 7 8 4 0 -2 -3 -3 -2 -2 -1 -1 0 0 1 2 2 3
b35 0 0 0 0 1 1 0 0 0 0 0 1 1 2 3 5 6 7 3 -1 -3 -3 -3 -2 -2 -2 -1 -1 -1 -6 -2 -1 0
r37 0 0 0 0 1 1 0 1 0 0 0 0 1 1 2 3 5 7 4 2 -2 -5 -4 -4 -4 -3 -2 -2 -1 0 1 0 0
b37 0 0 0 0 1 1 0 1 0 0 0 0 1 1 2 3 5 6 3 0 -4 -5 -4 -4 -4 -4 -3 -2 -1 0 0 1 0
}\rawF

% one column per trace, time in "colnames"
\pgfplotstabletranspose[colnames from=id]{\tabA}{\rawA}
\pgfplotstabletranspose[colnames from=id]{\tabB}{\rawB}
\pgfplotstabletranspose[colnames from=id]{\tabC}{\rawC}
\pgfplotstabletranspose[colnames from=id]{\tabD}{\rawD}
\pgfplotstabletranspose[colnames from=id]{\tabE}{\rawE}
\pgfplotstabletranspose[colnames from=id]{\tabF}{\rawF}

\pgfplotsset{
  brickaxis/.style={
    scale only axis, anchor=south west,
    axis x line=bottom, axis y line=left,
    axis line style={draw=black!16, line width=0.8pt, -},
    major tick length=0pt, tick style={draw=none},
    ytick={1,3,...,37},
    /pgf/number format/assume math mode=true,
    tick label style={font=\fontsize{16.5}{17}\selectfont, text=black!80},
    yticklabel style={xshift=1pt},
    label style={font=\fontsize{17.5}{19}\selectfont, text=black!62},
    ylabel={Brick Number},
    xlabel style={yshift=-2pt},
  },
  redtrace/.style={draw=tred, line width=1.3pt, line join=round, no markers},
  bluetrace/.style={draw=tblue, line width=1.2pt, line join=round, no markers, draw opacity=0.88},
}

% measured (red) and modelled (blue) trace of one brick, offset to its number
\newcommand{\brickpair}[3]{%
  \addplot[redtrace] table[x=colnames, y expr=\thisrow{r#2}/10+#2]{#1};
  \addplot[bluetrace] table[x=colnames, y expr=\thisrow{#3}/10+#2]{#1};
}

% #1 centre x, #2/#3 rule ends, #4 first baseline (from top), #5-#8 values
\newcommand{\infoblock}[8]{%
  \node[hd] at (#1pt,{(1321-#4)*1pt}) {Material};
  \node[vl] at (#1pt,{(1321-#4-33)*1pt}) {#5};
  \draw[rl] (#2pt,{(1321-#4-40.5)*1pt}) -- (#3pt,{(1321-#4-40.5)*1pt});
  \node[hd] at (#1pt,{(1321-#4-62.5)*1pt}) {Scale};
  \node[vl] at (#1pt,{(1321-#4-95)*1pt}) {#6};
  \draw[rl] (#2pt,{(1321-#4-103.5)*1pt}) -- (#3pt,{(1321-#4-103.5)*1pt});
  \node[hd] at (#1pt,{(1321-#4-127)*1pt}) {Ground Motion};
  \node[vl] at (#1pt,{(1321-#4-160)*1pt}) {#7};
  \draw[rl] (#2pt,{(1321-#4-167.5)*1pt}) -- (#3pt,{(1321-#4-167.5)*1pt});
  \node[hd] at (#1pt,{(1321-#4-191)*1pt}) {Spacing};
  \node[vl] at (#1pt,{(1321-#4-223.5)*1pt}) {#8};
}

\begin{document}
\begin{tikzpicture}[
  hd/.style={anchor=base, inner sep=0pt, text=ink, font=\lato\bfseries\fontsize{24}{27}\selectfont},
  vl/.style={anchor=base, inner sep=0pt, text=ink, font=\lato\fontsize{24}{27}\selectfont},
  rl/.style={draw=ink, line width=1.5pt},
]
\useasboundingbox (0,0) rectangle (1134pt,1321pt);

% row 1: Concrete
\begin{axis}[brickaxis, at={(259pt,909pt)}, width=273.5pt, height=411pt,
  xmin=0.93, xmax=3.75, ymin=-2.9, ymax=40.4, xtick={1,1.5,2,2.5,3,3.5}]
  \pgfplotsinvokeforeach{1,3,...,11}{\brickpair{\tabA}{#1}{r#1}}
  \pgfplotsinvokeforeach{13,15,...,37}{\brickpair{\tabA}{#1}{b#1}}
\end{axis}
\begin{axis}[brickaxis, at={(653pt,906pt)}, width=274.2pt, height=415pt,
  xmin=1.235, xmax=2.90, ymin=-3.02, ymax=40.57, xtick={1.5,2,2.5}]
  \pgfplotsinvokeforeach{1,3,...,15}{\brickpair{\tabD}{#1}{r#1}}
  \pgfplotsinvokeforeach{17,19,...,37}{\brickpair{\tabD}{#1}{b#1}}
\end{axis}

% row 2: Aluminum
\begin{axis}[brickaxis, at={(259pt,478.3pt)}, width=271.4pt, height=403pt,
  xmin=0.45, xmax=1.79, ymin=-1.0, ymax=39.3, xtick={0.6,0.8,1,1.2,1.4,1.6}]
  \pgfplotsinvokeforeach{1,3,...,17}{\brickpair{\tabB}{#1}{r#1}}
  \pgfplotsinvokeforeach{19,21,...,37}{\brickpair{\tabB}{#1}{b#1}}
\end{axis}
\begin{axis}[brickaxis, at={(653pt,476pt)}, width=273.4pt, height=404.8pt,
  xmin=0.6, xmax=1.4, ymin=-2.24, ymax=39.1, xtick={0.6,0.8,1,1.2,1.4}]
  \pgfplotsinvokeforeach{1,3,5,7}{\brickpair{\tabE}{#1}{r#1}}
  \pgfplotsinvokeforeach{9,11,...,37}{\brickpair{\tabE}{#1}{b#1}}
\end{axis}

% row 3: Wood
\begin{axis}[brickaxis, at={(259pt,41.7pt)}, width=271.4pt, height=404pt,
  xmin=0.45, xmax=1.79, ymin=-1.0, ymax=39.4, xtick={0.6,0.8,1,1.2,1.4,1.6},
  xlabel={Time (s)}]
  \pgfplotsinvokeforeach{1,3,...,19}{\brickpair{\tabC}{#1}{r#1}}
  \pgfplotsinvokeforeach{21,23,...,37}{\brickpair{\tabC}{#1}{b#1}}
\end{axis}
\begin{axis}[brickaxis, at={(654pt,42.7pt)}, width=273pt, height=403.5pt,
  xmin=0.6, xmax=1.4, ymin=-1.9, ymax=39.4, xtick={0.6,0.8,1,1.2,1.4},
  xlabel={Time (s)}]
  \pgfplotsinvokeforeach{1,3}{\brickpair{\tabF}{#1}{b#1}}
  \pgfplotsinvokeforeach{5,7,9,11}{\brickpair{\tabF}{#1}{r#1}}
  \pgfplotsinvokeforeach{13,15,...,37}{\brickpair{\tabF}{#1}{b#1}}
\end{axis}

% specimen descriptions
\infoblock{96}{10}{182}{111.5}{Concrete}{1:25}{Ridgecrest}{10 cm/s}
\infoblock{96}{10}{182}{557.5}{Aluminum}{1:107}{Ridgecrest}{4 cm/s}
\infoblock{96}{10}{182}{978.5}{Wood}{1:107}{Ridgecrest}{3 cm/s}
\infoblock{1043}{957}{1134}{111.5}{Concrete}{1:25}{Denali}{20 cm/s}
\infoblock{1043}{957}{1134}{557.5}{Aluminum}{1:107}{Denali}{20 cm/s}
\infoblock{1043}{957}{1134}{978.5}{Wood}{1:107}{Denali}{20 cm/s}
\end{tikzpicture}
\end{document}
